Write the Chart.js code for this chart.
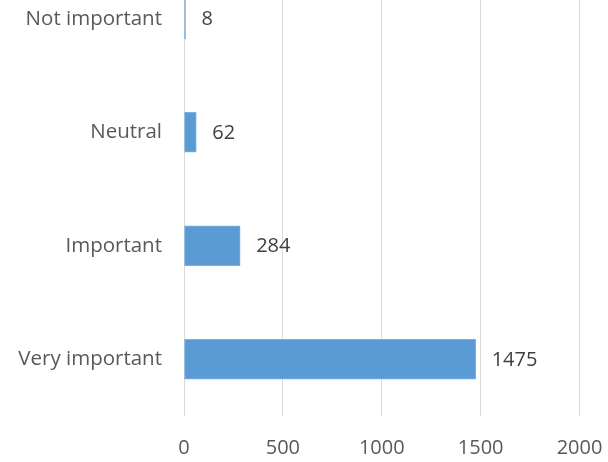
<!DOCTYPE html>
<html>
<head>
<meta charset="utf-8">
<script src="https://cdn.jsdelivr.net/npm/chart.js@4/dist/chart.umd.min.js"></script>
<style>
  html, body { margin: 0; padding: 0; background: #fff; overflow: hidden; }
  #wrap { position: absolute; left: 0; top: -38px; width: 608px; height: 500px; }
</style>
</head>
<body>
<div id="wrap"><canvas id="barChart"></canvas></div>
<script>
// data
const kategori = ["Not important", "Neutral", "Important", "Very important"];
const jumlah = [8, 62, 284, 1475];
const xTicks = [0, 500, 1000, 1500, 2000];

// label angka di ujung bar
const labelUjung = {
  id: "labelUjung",
  afterDatasetsDraw(chart) {
    const ctx = chart.ctx;
    const meta = chart.getDatasetMeta(0);
    ctx.save();
    ctx.font = "20px 'Open Sans'";
    ctx.fillStyle = "#404040";
    ctx.textAlign = "left";
    ctx.textBaseline = "middle";
    meta.data.forEach((bar, i) => {
      ctx.fillText(String(jumlah[i]), bar.x + 16, bar.y + 1);
    });
    ctx.restore();
  },
};

document.addEventListener("DOMContentLoaded", () => {
  const ctx = document.getElementById("barChart").getContext("2d");

  new Chart(ctx, {
    type: "bar",
    data: {
      labels: kategori,
      datasets: [
        {
          data: jumlah,
          backgroundColor: "#5B9BD5",
          borderColor: "#7fb0e0",
          borderWidth: 1,
          borderSkipped: false,
          barThickness: 40,
        },
      ],
    },
    options: {
      indexAxis: "y",
      responsive: true,
      maintainAspectRatio: false,
      animation: false,
      layout: { padding: { left: 0, right: 28.5, top: 0, bottom: 0 } },
      plugins: {
        legend: { display: false },
        tooltip: { enabled: false },
      },
      scales: {
        x: {
          min: 0,
          max: 2000,
          afterBuildTicks: (s) => {
            s.ticks = xTicks.map((v) => ({ value: v }));
          },
          afterFit: (s) => {
            s.height = 46;
            s.paddingLeft = 0;
            s.paddingRight = 0;
          },
          grid: { color: "#d9d9d9", lineWidth: 1, drawTicks: false },
          border: { display: false },
          ticks: {
            color: "#595959",
            font: { family: "'Open Sans'", size: 20 },
            padding: 20,
            callback: (v) => String(v),
          },
        },
        y: {
          afterFit: (s) => {
            s.width = 184;
            s.paddingTop = 0;
            s.paddingBottom = 0;
          },
          grid: { display: false, drawTicks: false },
          border: { display: false },
          ticks: {
            color: "#595959",
            font: { family: "'Open Sans'", size: 20.5 },
            padding: 22,
          },
        },
      },
    },
    plugins: [labelUjung],
  });
});
</script>
</body>
</html>
